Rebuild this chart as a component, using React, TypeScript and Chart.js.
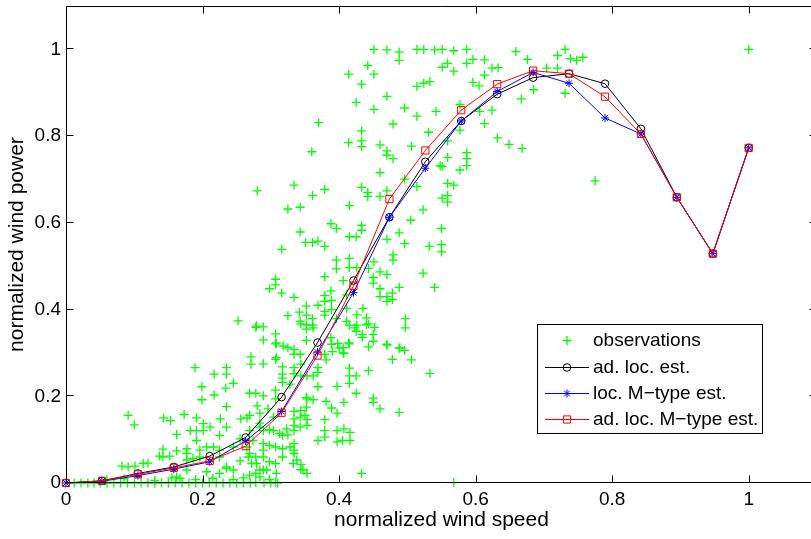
import React, { useEffect, useRef } from 'react';
import { Chart, registerables } from 'chart.js';

Chart.register(...registerables);

const FONT = '"Liberation Sans", Arial, Helvetica, sans-serif';

// ---------------- data ----------------
const windSpeed = [0, 0.0526, 0.1053, 0.1579, 0.2105, 0.2632, 0.3158, 0.3684, 0.4211, 0.4737, 0.5263, 0.5789, 0.6316, 0.6842, 0.7368, 0.7895, 0.8421, 0.8947, 0.9474, 1];
const adLocEst = [0, 0.005, 0.022, 0.037, 0.062, 0.105, 0.198, 0.324, 0.467, 0.613, 0.741, 0.835, 0.897, 0.935, 0.944, 0.921, 0.817, 0.659, 0.529, 0.773];
const locMTypeEst = [0, 0.004, 0.017, 0.032, 0.049, 0.097, 0.165, 0.302, 0.439, 0.613, 0.726, 0.835, 0.903, 0.947, 0.922, 0.842, 0.805, 0.659, 0.529, 0.773];
const adLocMTypeEst = [0, 0.005, 0.020, 0.035, 0.051, 0.085, 0.162, 0.294, 0.455, 0.655, 0.767, 0.860, 0.920, 0.951, 0.944, 0.891, 0.805, 0.659, 0.529, 0.773];

const observations: [number, number][] = [
  [0.451, 1.0], [0.470, 0.999], [0.488, 0.994], [0.488, 0.975], [0.514, 1.0], [0.524, 1.0], [0.540, 0.999], [0.551, 1.0], [0.568, 0.997], [0.587, 1.0],
  [0.659, 0.995], [0.676, 0.977], [0.720, 0.986], [0.731, 1.0], [0.739, 0.979], [0.748, 0.975], [0.757, 0.982], [1.0, 1.0],
  [0.442, 0.963], [0.451, 0.943], [0.414, 0.943], [0.433, 0.920], [0.551, 0.959], [0.559, 0.968], [0.568, 0.950], [0.587, 0.968], [0.596, 0.977], [0.596, 0.924],
  [0.613, 0.976], [0.624, 0.957], [0.633, 0.958], [0.613, 0.941], [0.605, 0.916], [0.514, 0.915], [0.524, 0.922], [0.533, 0.926], [0.470, 0.892], [0.425, 0.878],
  [0.451, 0.862], [0.496, 0.865], [0.542, 0.857], [0.514, 0.846], [0.370, 0.831], [0.479, 0.828], [0.433, 0.812], [0.531, 0.809], [0.577, 0.873], [0.577, 0.814],
  [0.414, 0.785], [0.433, 0.789], [0.433, 0.776], [0.460, 0.780], [0.506, 0.777], [0.559, 0.789], [0.360, 0.764], [0.470, 0.766], [0.470, 0.756], [0.479, 0.748],
  [0.559, 0.751], [0.587, 0.762], [0.587, 0.748], [0.587, 0.732], [0.551, 0.730], [0.577, 0.722], [0.460, 0.716], [0.496, 0.701], [0.514, 0.684], [0.559, 0.691],
  [0.568, 0.687], [0.334, 0.687], [0.379, 0.677], [0.361, 0.663], [0.433, 0.682], [0.442, 0.670], [0.442, 0.661], [0.470, 0.674], [0.460, 0.661], [0.551, 0.657],
  [0.559, 0.663], [0.649, 0.781], [0.668, 0.772], [0.685, 0.907], [0.704, 0.957], [0.720, 0.957], [0.731, 0.899], [0.632, 0.796], [0.667, 0.886], [0.606, 0.857],
  [0.624, 0.860], [0.613, 0.829], [0.548, 0.732], [0.775, 0.697],
  [0.559, 0.648], [0.523, 0.630], [0.550, 0.587], [0.532, 0.546], [0.550, 0.550], [0.550, 0.533], [0.523, 0.484], [0.540, 0.451], [0.533, 0.253], [0.568, 0.001],
  [0.415, 0.640], [0.388, 0.598], [0.396, 0.587], [0.343, 0.579], [0.415, 0.568], [0.425, 0.568], [0.433, 0.594], [0.433, 0.583], [0.351, 0.555], [0.361, 0.555],
  [0.369, 0.558], [0.379, 0.546], [0.316, 0.539], [0.470, 0.562], [0.488, 0.577], [0.496, 0.552], [0.505, 0.606], [0.479, 0.526], [0.479, 0.514], [0.451, 0.510],
  [0.415, 0.518], [0.396, 0.514], [0.396, 0.494], [0.415, 0.497], [0.426, 0.497], [0.443, 0.495], [0.460, 0.487], [0.470, 0.481], [0.379, 0.476], [0.406, 0.467],
  [0.450, 0.474], [0.450, 0.461], [0.460, 0.448], [0.470, 0.419], [0.478, 0.423], [0.478, 0.438], [0.488, 0.451], [0.497, 0.379], [0.497, 0.358], [0.307, 0.470],
  [0.307, 0.457], [0.298, 0.448], [0.316, 0.438], [0.334, 0.428], [0.379, 0.432], [0.379, 0.419], [0.388, 0.443], [0.389, 0.421], [0.369, 0.410], [0.379, 0.396],
  [0.379, 0.387], [0.325, 0.386], [0.352, 0.408], [0.343, 0.373], [0.352, 0.387], [0.352, 0.365], [0.362, 0.358], [0.411, 0.434], [0.411, 0.403], [0.426, 0.388],
  [0.435, 0.403], [0.440, 0.381], [0.440, 0.365], [0.460, 0.430], [0.470, 0.430], [0.411, 0.373], [0.423, 0.358], [0.450, 0.343], [0.450, 0.327], [0.470, 0.320],
  [0.489, 0.312], [0.318, 0.316], [0.308, 0.323], [0.279, 0.362], [0.289, 0.360], [0.252, 0.374], [0.280, 0.674], [0.325, 0.632], [0.343, 0.636], [0.342, 0.394],
  [0.361, 0.379], [0.361, 0.364], [0.389, 0.400], [0.396, 0.379], [0.352, 0.355], [0.307, 0.344], [0.289, 0.330], [0.307, 0.321], [0.325, 0.312], [0.334, 0.308],
  [0.334, 0.297], [0.343, 0.297], [0.352, 0.329], [0.388, 0.335], [0.398, 0.322], [0.406, 0.312], [0.271, 0.291], [0.379, 0.297], [0.390, 0.303], [0.406, 0.300],
  [0.414, 0.323],
  [0.278, 0.359], [0.344, 0.367], [0.289, 0.275], [0.307, 0.285], [0.317, 0.268], [0.317, 0.251], [0.317, 0.242], [0.317, 0.232], [0.334, 0.266], [0.334, 0.252],
  [0.344, 0.274], [0.344, 0.247], [0.369, 0.266], [0.369, 0.255], [0.353, 0.247], [0.362, 0.247], [0.381, 0.284], [0.389, 0.320], [0.400, 0.311], [0.407, 0.299],
  [0.415, 0.364], [0.426, 0.364], [0.425, 0.350], [0.434, 0.343], [0.434, 0.336], [0.443, 0.367], [0.452, 0.359], [0.415, 0.321], [0.443, 0.314], [0.470, 0.318],
  [0.478, 0.285], [0.488, 0.311], [0.496, 0.306], [0.506, 0.284], [0.415, 0.265], [0.415, 0.247], [0.415, 0.230], [0.425, 0.247], [0.443, 0.259], [0.425, 0.207],
  [0.397, 0.223], [0.369, 0.222], [0.381, 0.188], [0.389, 0.173], [0.397, 0.161], [0.407, 0.186], [0.450, 0.196], [0.450, 0.186], [0.460, 0.171], [0.488, 0.163],
  [0.269, 0.207], [0.278, 0.207], [0.289, 0.201], [0.307, 0.214], [0.307, 0.194], [0.296, 0.171], [0.280, 0.178], [0.269, 0.156], [0.269, 0.121], [0.289, 0.121],
  [0.298, 0.123], [0.334, 0.165], [0.334, 0.148], [0.334, 0.133], [0.334, 0.121], [0.344, 0.167], [0.350, 0.156], [0.353, 0.146], [0.353, 0.133], [0.362, 0.192],
  [0.353, 0.194], [0.379, 0.146], [0.379, 0.121], [0.379, 0.106], [0.369, 0.098], [0.397, 0.121], [0.397, 0.095], [0.407, 0.125], [0.416, 0.117], [0.416, 0.098],
  [0.405, 0.098], [0.325, 0.111], [0.317, 0.110], [0.334, 0.091], [0.334, 0.076], [0.334, 0.068], [0.317, 0.079], [0.307, 0.083], [0.298, 0.087], [0.289, 0.091],
  [0.289, 0.060], [0.278, 0.060], [0.269, 0.068], [0.298, 0.049], [0.307, 0.045], [0.317, 0.060], [0.344, 0.043], [0.353, 0.022], [0.344, 0.031], [0.269, 0.018],
  [0.278, 0.022], [0.307, 0.001], [0.278, 0.001], [0.433, 0.022],
  [0.189, 0.266], [0.217, 0.251], [0.235, 0.266], [0.235, 0.251], [0.245, 0.230], [0.271, 0.274], [0.308, 0.289], [0.199, 0.222], [0.199, 0.192], [0.217, 0.203],
  [0.234, 0.219], [0.235, 0.176], [0.091, 0.156], [0.100, 0.134], [0.143, 0.150], [0.153, 0.144], [0.173, 0.158], [0.191, 0.150], [0.226, 0.148], [0.162, 0.112],
  [0.182, 0.121], [0.191, 0.121], [0.201, 0.137], [0.201, 0.121], [0.211, 0.129], [0.256, 0.148], [0.265, 0.150], [0.284, 0.161], [0.284, 0.138], [0.284, 0.129],
  [0.142, 0.078], [0.142, 0.060], [0.152, 0.062], [0.162, 0.074], [0.177, 0.079], [0.177, 0.068], [0.186, 0.057], [0.196, 0.060], [0.082, 0.039], [0.091, 0.037],
  [0.101, 0.039], [0.113, 0.045], [0.120, 0.046], [0.137, 0.062], [0.206, 0.083], [0.216, 0.083], [0.225, 0.076], [0.255, 0.102], [0.265, 0.083], [0.274, 0.098],
  [0.289, 0.076], [0.255, 0.051], [0.267, 0.060], [0.272, 0.045], [0.284, 0.030], [0.294, 0.030], [0.308, 0.022], [0.235, 0.034], [0.245, 0.030], [0.225, 0.022],
  [0.206, 0.026], [0.177, 0.030], [0.162, 0.014], [0.167, 0.011], [0.284, 0.014], [0.328, 0.083], [0.328, 0.228], [0.352, 0.197], [0.352, 0.175], [0.343, 0.152],
  [0.343, 0.129], [0.304, 0.152], [0.304, 0.121], [0.333, 0.045], [0.347, 0.030],
  [0.225, 0.110], [0.235, 0.129], [0.177, 0.053], [0.191, 0.098], [0.196, 0.076], [0.225, 0.060], [0.235, 0.037], [0.245, 0.083], [0.313, 0.114], [0.323, 0.125],
  [0.279, 0.045], [0.289, 0.030], [0.338, 0.053],
  [0.012, 0], [0.022, 0], [0.032, 0], [0.041, 0], [0.050, 0], [0.060, 0], [0.070, 0], [0.080, 0], [0.090, 0], [0.100, 0],
  [0.110, 0], [0.120, 0], [0.130, 0], [0.140, 0], [0.150, 0], [0.160, 0], [0.170, 0], [0.180, 0], [0.190, 0], [0.200, 0],
  [0.210, 0], [0.220, 0], [0.230, 0], [0.240, 0], [0.250, 0], [0.260, 0], [0.270, 0], [0.290, 0], [0.300, 0], [0.310, 0],
  [0.060, 0.008], [0.085, 0.010], [0.130, 0.006], [0.155, 0.012], [0.190, 0.008], [0.215, 0.011], [0.245, 0.008], [0.260, 0.012], [0.298, 0.008],
];

const xTickValues = [0, 0.2, 0.4, 0.6, 0.8, 1];
const xTickLabels = ['0', '0.2', '0.4', '0.6', '0.8', '1'];
const yTickValues = [0, 0.2, 0.4, 0.6, 0.8, 1];
const yTickLabels = ['0', '0.2', '0.4', '0.6', '0.8', '1'];
const seriesLabels = ['observations', 'ad. loc. est.', 'loc. M\u2212type est.', 'ad. loc. M\u2212type est.'];
const xAxisTitle = 'normalized wind speed';
const yAxisTitle = 'normalized wind power';

// ---------------- styles ----------------
const GREEN = '#00ff00';
const BLACK = '#000000';
const BLUE = '#0000ff';
const RED = '#ff0000';

const boxTicksPlugin = {
  id: 'boxTicks',
  afterDatasetsDraw(chart: any) {
    const { ctx, chartArea, scales } = chart;
    const { left, right, top, bottom } = chartArea;
    const L = Math.round(left) + 0.5;
    const R = Math.round(right) - 0.5;
    const T = Math.round(top) + 0.5;
    const B = Math.round(bottom) - 0.5;
    const tl = 7;
    ctx.save();
    ctx.strokeStyle = '#000';
    ctx.lineWidth = 1;
    ctx.beginPath();
    ctx.rect(L, T, R - L, B - T);
    for (const v of xTickValues) {
      const px = Math.round(scales.x.getPixelForValue(v)) + 0.5;
      ctx.moveTo(px, B); ctx.lineTo(px, B - tl);
      ctx.moveTo(px, T); ctx.lineTo(px, T + tl);
    }
    for (const v of yTickValues) {
      const py = Math.round(scales.y.getPixelForValue(v)) - 0.5;
      ctx.moveTo(L, py); ctx.lineTo(L + tl, py);
      ctx.moveTo(R, py); ctx.lineTo(R - tl, py);
    }
    ctx.stroke();
    ctx.restore();
  },
};

function drawMarker(ctx: CanvasRenderingContext2D, kind: string, x: number, y: number, color: string) {
  ctx.save();
  ctx.strokeStyle = color;
  ctx.lineWidth = kind === 'cross' ? 1.3 : 1;
  ctx.beginPath();
  if (kind === 'cross') {
    ctx.moveTo(x - 4.5, y); ctx.lineTo(x + 4.5, y);
    ctx.moveTo(x, y - 4.5); ctx.lineTo(x, y + 4.5);
  } else if (kind === 'circle') {
    ctx.arc(x, y, 3.8, 0, Math.PI * 2);
  } else if (kind === 'star') {
    const r = 4;
    ctx.moveTo(x - r, y); ctx.lineTo(x + r, y);
    ctx.moveTo(x, y - r); ctx.lineTo(x, y + r);
    const d = r * Math.SQRT1_2;
    ctx.moveTo(x - d, y - d); ctx.lineTo(x + d, y + d);
    ctx.moveTo(x - d, y + d); ctx.lineTo(x + d, y - d);
  } else if (kind === 'rect') {
    ctx.rect(x - 3.6, y - 3.6, 7.2, 7.2);
  }
  ctx.stroke();
  ctx.restore();
}

const legendPlugin = {
  id: 'matlabLegend',
  afterDraw(chart: any) {
    const { ctx } = chart;
    const bx = 537.5, by = 324.5, bw = 225, bh = 109;
    ctx.save();
    ctx.fillStyle = '#ffffff';
    ctx.fillRect(bx, by, bw, bh);
    ctx.strokeStyle = '#000';
    ctx.lineWidth = 1;
    ctx.strokeRect(bx, by, bw, bh);
    const rows = [340, 367, 393, 419];
    const entries = [
      { kind: 'cross', color: GREEN, line: false },
      { kind: 'circle', color: BLACK, line: true },
      { kind: 'star', color: BLUE, line: true },
      { kind: 'rect', color: RED, line: true },
    ];
    ctx.font = `19px ${FONT}`;
    ctx.textBaseline = 'middle';
    ctx.textAlign = 'left';
    entries.forEach((e, i) => {
      const y = rows[i] + 0.5;
      if (e.line) {
        ctx.strokeStyle = e.color;
        ctx.lineWidth = 1;
        ctx.beginPath();
        ctx.moveTo(545, y); ctx.lineTo(589, y);
        ctx.stroke();
      }
      drawMarker(ctx, e.kind, 567, y, e.color);
      ctx.fillStyle = '#000';
      ctx.fillText(chart.data.datasets[i].label, 593, rows[i] + 1);
    });
    ctx.restore();
  },
};

export default function App() {
  const canvasRef = useRef<HTMLCanvasElement | null>(null);

  useEffect(() => {
    document.body.style.margin = '0';
    const canvas = canvasRef.current;
    if (!canvas) return;

    const lineSeries = (label: string, ys: number[], color: string, style: string, radius: number, order: number) => ({
      label,
      data: windSpeed.map((x, i) => ({ x, y: ys[i] })),
      showLine: true,
      borderColor: color,
      borderWidth: 1,
      backgroundColor: 'rgba(0,0,0,0)',
      pointStyle: style,
      pointRadius: radius,
      pointBorderColor: color,
      pointBackgroundColor: 'rgba(0,0,0,0)',
      pointBorderWidth: 1,
      tension: 0,
      fill: false,
      clip: false,
      order,
    });

    const chart = new Chart(canvas, {
      type: 'scatter',
      data: {
        datasets: [
          {
            label: seriesLabels[0],
            data: observations.map(([x, y]) => ({ x, y })),
            showLine: false,
            pointStyle: 'cross',
            pointRadius: 4.5,
            borderColor: GREEN,
            pointBorderColor: GREEN,
            pointBorderWidth: 1.3,
            backgroundColor: GREEN,
            clip: false,
            order: 4,
          } as any,
          lineSeries(seriesLabels[1], adLocEst, BLACK, 'circle', 3.8, 3),
          lineSeries(seriesLabels[2], locMTypeEst, BLUE, 'star', 4, 2),
          lineSeries(seriesLabels[3], adLocMTypeEst, RED, 'rect', 5.1, 1),
        ],
      },
      options: {
        responsive: false,
        animation: false,
        devicePixelRatio: 1,
        events: [],
        layout: { padding: { left: 0, right: 13, top: 2, bottom: 0 } },
        plugins: { legend: { display: false }, tooltip: { enabled: false } },
        scales: {
          x: {
            type: 'linear',
            position: 'bottom',
            min: 0,
            max: 1.1,
            grid: { display: false, drawTicks: false },
            border: { display: false },
            ticks: {
              color: '#000',
              font: { family: FONT, size: 19 },
              padding: 5,
              maxRotation: 0,
              autoSkip: false,
              callback: (_v: any, i: number) => xTickLabels[i],
            },
            afterBuildTicks: (s: any) => { s.ticks = xTickValues.map((v) => ({ value: v })); },
            afterFit: (s: any) => { s.height = 56; s.paddingLeft = 0; s.paddingRight = 0; },
            title: {
              display: true,
              text: xAxisTitle,
              color: '#000',
              font: { family: FONT, size: 21 },
              padding: { top: 0, bottom: 6 },
            },
          },
          y: {
            type: 'linear',
            min: 0,
            max: 1.1,
            grid: { display: false, drawTicks: false },
            border: { display: false },
            ticks: {
              color: '#000',
              font: { family: FONT, size: 19 },
              padding: 5,
              autoSkip: false,
              callback: (_v: any, i: number) => yTickLabels[i],
            },
            afterBuildTicks: (s: any) => { s.ticks = yTickValues.map((v) => ({ value: v })); },
            afterFit: (s: any) => { s.width = 66; s.paddingTop = 0; s.paddingBottom = 0; },
            title: {
              display: true,
              text: yAxisTitle,
              color: '#000',
              font: { family: FONT, size: 21 },
              padding: { top: 5, bottom: 0 },
            },
          },
        },
      } as any,
      plugins: [boxTicksPlugin, legendPlugin],
    });

    return () => chart.destroy();
  }, []);

  return (
    <div style={{ width: 811, height: 539, overflow: 'hidden', position: 'relative', background: '#fff' }}>
      <canvas ref={canvasRef} width={830} height={539} style={{ display: 'block' }} />
    </div>
  );
}
